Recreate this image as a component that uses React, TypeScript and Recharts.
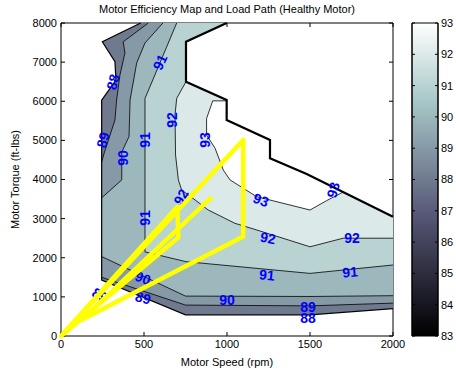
import React from "react";
import {
  ScatterChart,
  ComposedChart,
  Scatter,
  Bar,
  XAxis,
  YAxis,
} from "recharts";

type Pt = [number, number]; // [rpm, ft-lbs]

const title = "Motor Efficiency Map and Load Path (Healthy Motor)";
const speedTicks = [0, 500, 1000, 1500, 2000];
const torqueTicks = [0, 1000, 2000, 3000, 4000, 5000, 6000, 7000, 8000];
const effTicks = [83, 84, 85, 86, 87, 88, 89, 90, 91, 92, 93];

// edge of the mapped region: right/upper rim (right edge up to the top) ...
const upperRim: Pt[] = [
  [2000, 3050], [1480, 4140], [1259, 4540], [1259, 5010], [998, 5520],
  [998, 6030], [753, 6500], [753, 7520], [998, 8000],
];
// ... and the left / lower edge (top back round to the right edge)
const lowerEdge: Pt[] = [
  [480, 8000], [249, 7520], [325, 7010], [331, 6540], [245, 6030],
  [245, 1430], [750, 540], [1500, 540], [2000, 700],
];

// contour lines (efficiency %)
const c89a: Pt[] = [
  [526, 8000], [375, 7520], [385, 7230], [355, 6670], [335, 6030],
  [325, 5520], [262, 4700], [245, 4450],
];
const c89b: Pt[] = [[245, 1500], [750, 790], [1500, 770], [2000, 840]];
const c90a: Pt[] = [
  [614, 8000], [506, 7490], [456, 6980], [416, 6030], [410, 5100],
  [366, 4700], [366, 3990], [245, 3530],
];
const c90b: Pt[] = [[245, 2030], [750, 1020], [1500, 1010], [2000, 1030]];
const c91: Pt[] = [
  [697, 8000], [506, 6070], [506, 2150], [753, 1900], [1500, 1600], [2000, 1815],
];
const c92: Pt[] = [
  [753, 6500], [697, 6075], [687, 5650], [690, 4630], [707, 3990],
  [727, 3730], [807, 3480], [887, 3220], [1048, 2880], [1179, 2710],
  [1500, 2280], [1700, 2500], [2000, 2500],
];
const c93: Pt[] = [
  [998, 6010], [914, 6010], [877, 5560], [877, 5140], [928, 4800],
  [978, 4240], [1018, 3990], [1179, 3560], [1500, 3220], [1600, 3460],
  [1700, 3680],
];

// clabel text
const labelLevels = [88, 89, 90, 91, 91, 92, 93, 91, 92, 93, 93, 92, 92, 91, 91, 90, 89, 88, 90, 89, 89];
const labelRpm = [313, 253, 373, 596, 506, 669, 867, 506, 723, 1205, 1639, 1247, 1753, 1241, 1741, 1000, 1488, 1488, 494, 494, 235];
const labelTorque = [6492, 5010, 4550, 7003, 5010, 5521, 5010, 3016, 3553, 3476, 3732, 2505, 2505, 1559, 1636, 920, 741, 460, 1482, 971, 1048];
const labelAngles = [-75, -75, -90, -65, -90, -90, -90, -90, -60, 20, -75, 10, 0, 5, -5, 0, 0, 0, 20, 15, 30];

// load path
const pathRpm = [0, 700, 707, 0, 1098, 1098, 120, 900];
const pathTorque = [0, 3300, 2520, 0, 5010, 2540, 400, 3520];

// colorbar range (caxis)
const cbarRange = [{ name: "eff", range: [83, 93] }];

// matlab "bone" colormap, t in [0,1]
function bone(t: number) {
  const hr = Math.min(1, (t * 8) / 3);
  const hg = Math.min(1, Math.max(0, ((t - 3 / 8) * 8) / 3));
  const hb = Math.min(1, Math.max(0, (t - 3 / 4) * 4));
  const c = [(7 * t + hb) / 8, (7 * t + hg) / 8, (7 * t + hr) / 8].map((v) =>
    Math.round(v * 255)
  );
  return `rgb(${c[0]},${c[1]},${c[2]})`;
}
const levelColor = (lvl: number) => bone((lvl - 83) / 10);

const toXY = (pts: Pt[]) => pts.map(([x, y]) => ({ x, y }));

const regions: { level: number; pts: Pt[] }[] = [
  { level: 88, pts: [...upperRim, ...lowerEdge] },
  { level: 89, pts: [...c89a, ...c89b, ...upperRim] },
  { level: 90, pts: [...c90a, ...c90b, ...upperRim] },
  { level: 91, pts: [...c91, ...upperRim] },
  { level: 92, pts: [...c92, ...upperRim.slice(0, 7)] },
  { level: 93, pts: [...c93, ...upperRim.slice(1, 5)] },
];
const contourLines = [c89a, c89b, c90a, c90b, c91, c92, c93];

const labelData = labelLevels.map((lvl, i) => ({
  x: labelRpm[i],
  y: labelTorque[i],
  text: String(lvl),
  angle: labelAngles[i],
}));
const pathData = pathRpm.map((x, i) => ({ x, y: pathTorque[i] }));

const noDot = () => <g />;
const font = '"Liberation Sans", Arial, sans-serif';
const axisStroke = { stroke: "#000", strokeWidth: 1 };
const tickStyle = { fill: "#000", fontSize: 11 };

const ContourLabel = (p: any) => (
  <text
    x={p.cx}
    y={p.cy}
    transform={`rotate(${p.payload.angle} ${p.cx} ${p.cy})`}
    textAnchor="middle"
    dominantBaseline="central"
    fill="#0000ff"
    fontSize={14}
    fontWeight="bold"
  >
    {p.payload.text}
  </text>
);

export default function App() {
  const stops = Array.from({ length: 33 }, (_, i) => i / 32);
  return (
    <div
      style={{
        position: "absolute",
        left: 0,
        top: 0,
        width: 456,
        height: 371,
        background: "#fff",
        fontFamily: font,
      }}
    >
      <div style={{ position: "absolute", left: 0, top: 0 }}>
        <ScatterChart
          width={456}
          height={371}
          margin={{ top: 22, right: 62, bottom: 0, left: 0 }}
        >
          {regions.map((r) => (
            <Scatter
              key={`fill${r.level}`}
              data={toXY(r.pts)}
              line={{ fill: levelColor(r.level), stroke: "none" }}
              shape={noDot}
              isAnimationActive={false}
            />
          ))}
          {contourLines.map((c, i) => (
            <Scatter
              key={`line${i}`}
              data={toXY(c)}
              line={{ stroke: "#000", strokeWidth: 0.8 }}
              shape={noDot}
              isAnimationActive={false}
            />
          ))}
          <Scatter
            data={toXY(lowerEdge)}
            line={{ stroke: "#000", strokeWidth: 1.2 }}
            shape={noDot}
            isAnimationActive={false}
          />
          <Scatter
            data={toXY(upperRim)}
            line={{ stroke: "#000", strokeWidth: 2.2, strokeLinejoin: "miter" }}
            shape={noDot}
            isAnimationActive={false}
          />
          <Scatter data={labelData} shape={ContourLabel} isAnimationActive={false} />
          <Scatter
            data={pathData}
            line={{ stroke: "#ffff00", strokeWidth: 4.5, strokeLinejoin: "round", strokeLinecap: "round" }}
            shape={noDot}
            isAnimationActive={false}
          />
          {/* ties the box axes (top / right) to data so their ticks are drawn */}
          <Scatter
            xAxisId="top"
            yAxisId="right"
            data={pathData}
            shape={noDot}
            isAnimationActive={false}
          />
          <XAxis
            type="number"
            dataKey="x"
            domain={[0, 2000]}
            ticks={speedTicks}
            interval={0}
            height={35}
            tickSize={-4}
            tickMargin={8}
            axisLine={axisStroke}
            tickLine={axisStroke}
            tick={tickStyle}
            label={{ value: "Motor Speed (rpm)", position: "insideBottom", offset: 5, fill: "#000", fontSize: 11 }}
          />
          <XAxis
            xAxisId="top"
            orientation="top"
            type="number"
            dataKey="x"
            domain={[0, 2000]}
            ticks={speedTicks}
            interval={0}
            height={1}
            tickSize={-4}
            tickFormatter={() => ""}
            axisLine={axisStroke}
            tickLine={axisStroke}
            label={{ value: title, position: "top", offset: 9, fill: "#000", fontSize: 11 }}
          />
          <YAxis
            type="number"
            dataKey="y"
            domain={[0, 8000]}
            ticks={torqueTicks}
            interval={0}
            width={61}
            tickSize={-4}
            tickMargin={8}
            axisLine={axisStroke}
            tickLine={axisStroke}
            tick={tickStyle}
            label={{
              value: "Motor Torque (ft-lbs)",
              angle: -90,
              position: "insideLeft",
              offset: 15,
              fill: "#000",
              fontSize: 11,
              style: { textAnchor: "middle" },
            }}
          />
          <YAxis
            yAxisId="right"
            orientation="right"
            type="number"
            dataKey="y"
            domain={[0, 8000]}
            ticks={torqueTicks}
            interval={0}
            width={1}
            tickSize={-4}
            tickFormatter={() => ""}
            axisLine={axisStroke}
            tickLine={axisStroke}
          />
        </ScatterChart>
      </div>

      {/* colorbar */}
      <div style={{ position: "absolute", left: 400, top: 0 }}>
        <ComposedChart
          width={56}
          height={371}
          data={cbarRange}
          barCategoryGap={0}
          margin={{ top: 23, right: 0, bottom: 35, left: 0 }}
        >
          <defs>
            <linearGradient id="boneBar" x1="0" y1="1" x2="0" y2="0">
              {stops.map((t) => (
                <stop key={t} offset={t} stopColor={bone(t)} />
              ))}
            </linearGradient>
          </defs>
          <XAxis type="category" dataKey="name" hide />
          <Bar
            yAxisId="right"
            dataKey="range"
            fill="url(#boneBar)"
            stroke="#000"
            strokeWidth={1}
            isAnimationActive={false}
          />
          <Scatter
            yAxisId="left"
            dataKey={(d: any) => d.range[0]}
            shape={noDot}
            isAnimationActive={false}
          />
          <YAxis
            yAxisId="left"
            type="number"
            domain={[83, 93]}
            ticks={effTicks}
            interval={0}
            width={12}
            tickSize={-3}
            tickFormatter={() => ""}
            axisLine={axisStroke}
            tickLine={axisStroke}
          />
          <YAxis
            yAxisId="right"
            orientation="right"
            type="number"
            domain={[83, 93]}
            ticks={effTicks}
            interval={0}
            width={18}
            tickSize={-3}
            tickMargin={6}
            axisLine={axisStroke}
            tickLine={axisStroke}
            tick={tickStyle}
          />
        </ComposedChart>
      </div>
    </div>
  );
}
